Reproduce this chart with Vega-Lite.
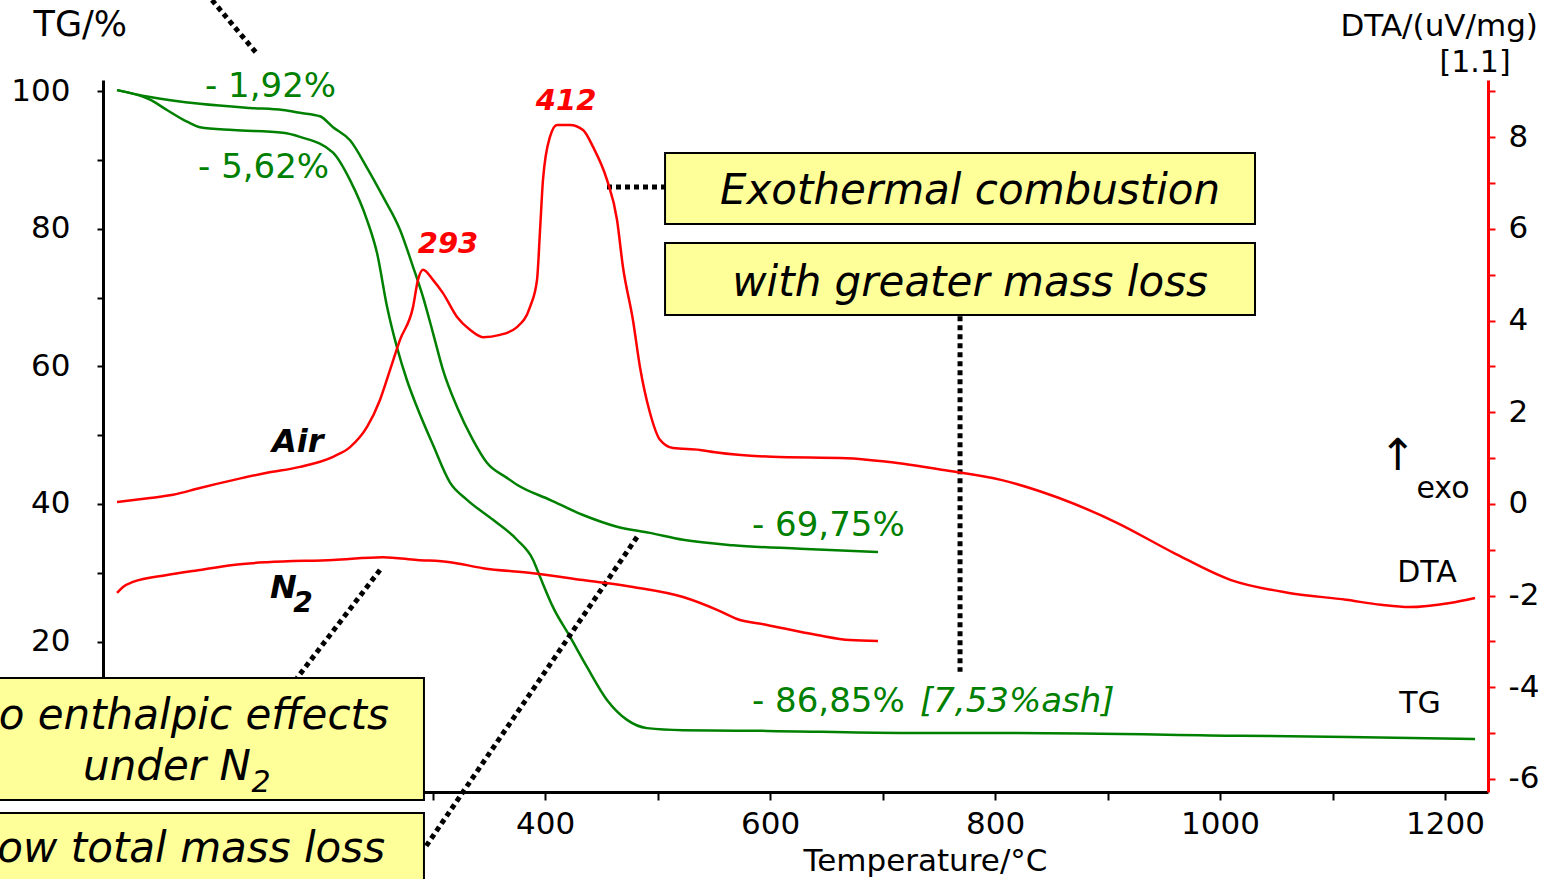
{
  "$schema": "https://vega.github.io/schema/vega-lite/v6.json",
  "width": 1385,
  "height": 712,
  "autosize": {"type": "none"},
  "padding": {"left": 103, "top": 80, "right": 59, "bottom": 87},
  "background": "white",
  "config": {"view": {"stroke": null}, "font": "DejaVu Sans"},
  "datasets": {
    "tg": [
      {"series": "N2", "T": 19.6, "TG": 100.2}, {"series": "N2", "T": 48.9, "TG": 99.2}, {"series": "N2", "T": 93.3, "TG": 98.2},
      {"series": "N2", "T": 137.8, "TG": 97.6}, {"series": "N2", "T": 167.1, "TG": 97.3}, {"series": "N2", "T": 182.2, "TG": 96.9},
      {"series": "N2", "T": 200, "TG": 96.4}, {"series": "N2", "T": 211.6, "TG": 94.8}, {"series": "N2", "T": 226.7, "TG": 92.9},
      {"series": "N2", "T": 241.8, "TG": 88.9}, {"series": "N2", "T": 256, "TG": 84.7}, {"series": "N2", "T": 271.1, "TG": 79.9},
      {"series": "N2", "T": 282.7, "TG": 74.5}, {"series": "N2", "T": 291.6, "TG": 70.1}, {"series": "N2", "T": 300.4, "TG": 64.9},
      {"series": "N2", "T": 309.3, "TG": 59.5}, {"series": "N2", "T": 321.8, "TG": 54.1}, {"series": "N2", "T": 336, "TG": 49.3},
      {"series": "N2", "T": 348.4, "TG": 46.0}, {"series": "N2", "T": 366.2, "TG": 43.8}, {"series": "N2", "T": 375.1, "TG": 42.8},
      {"series": "N2", "T": 404.4, "TG": 40.6}, {"series": "N2", "T": 433.8, "TG": 38.4}, {"series": "N2", "T": 464, "TG": 36.7},
      {"series": "N2", "T": 493.3, "TG": 35.8}, {"series": "N2", "T": 522.7, "TG": 34.8}, {"series": "N2", "T": 567.1, "TG": 34.0},
      {"series": "N2", "T": 626.7, "TG": 33.5}, {"series": "N2", "T": 696, "TG": 33.0},
      {"series": "Air", "T": 19.6, "TG": 100.2}, {"series": "Air", "T": 48.9, "TG": 98.8}, {"series": "Air", "T": 64, "TG": 97.3},
      {"series": "Air", "T": 81.8, "TG": 95.6}, {"series": "Air", "T": 93.3, "TG": 94.8}, {"series": "Air", "T": 122.7, "TG": 94.4},
      {"series": "Air", "T": 167.1, "TG": 94.0}, {"series": "Air", "T": 182.2, "TG": 93.4}, {"series": "Air", "T": 211.6, "TG": 91.1},
      {"series": "Air", "T": 226.7, "TG": 87.1}, {"series": "Air", "T": 241.8, "TG": 81.3}, {"series": "Air", "T": 250.7, "TG": 76.5},
      {"series": "Air", "T": 259.6, "TG": 68.7}, {"series": "Air", "T": 268.4, "TG": 62.8}, {"series": "Air", "T": 277.3, "TG": 58.0},
      {"series": "Air", "T": 286.2, "TG": 54.1}, {"series": "Air", "T": 300.4, "TG": 48.6}, {"series": "Air", "T": 315.6, "TG": 43.1},
      {"series": "Air", "T": 330.7, "TG": 40.6}, {"series": "Air", "T": 353.8, "TG": 37.7}, {"series": "Air", "T": 375.1, "TG": 34.8},
      {"series": "Air", "T": 389.3, "TG": 31.9}, {"series": "Air", "T": 395.6, "TG": 29.4}, {"series": "Air", "T": 407.1, "TG": 25.0},
      {"series": "Air", "T": 422.2, "TG": 20.7}, {"series": "Air", "T": 437.3, "TG": 16.3}, {"series": "Air", "T": 455.1, "TG": 11.5},
      {"series": "Air", "T": 472.9, "TG": 8.6}, {"series": "Air", "T": 490.7, "TG": 7.4}, {"series": "Air", "T": 522.7, "TG": 7.1},
      {"series": "Air", "T": 597.3, "TG": 7.0}, {"series": "Air", "T": 715.6, "TG": 6.7}, {"series": "Air", "T": 806.2, "TG": 6.7},
      {"series": "Air", "T": 1017.8, "TG": 6.3}, {"series": "Air", "T": 1113.8, "TG": 6.1}, {"series": "Air", "T": 1226.7, "TG": 5.8}
    ],
    "dta": [
      {"series": "Air", "T": 19.6, "DTA": 0.04}, {"series": "Air", "T": 48.9, "DTA": 0.13}, {"series": "Air", "T": 69.3, "DTA": 0.2},
      {"series": "Air", "T": 93.3, "DTA": 0.35}, {"series": "Air", "T": 122.7, "DTA": 0.52}, {"series": "Air", "T": 152.9, "DTA": 0.68},
      {"series": "Air", "T": 182.2, "DTA": 0.81}, {"series": "Air", "T": 211.6, "DTA": 1.03}, {"series": "Air", "T": 226.7, "DTA": 1.24},
      {"series": "Air", "T": 241.8, "DTA": 1.68}, {"series": "Air", "T": 253.3, "DTA": 2.27}, {"series": "Air", "T": 262.2, "DTA": 2.92},
      {"series": "Air", "T": 271.1, "DTA": 3.58}, {"series": "Air", "T": 282.7, "DTA": 4.3}, {"series": "Air", "T": 287.1, "DTA": 4.89},
      {"series": "Air", "T": 291.6, "DTA": 5.11}, {"series": "Air", "T": 300.4, "DTA": 4.89}, {"series": "Air", "T": 309.3, "DTA": 4.6},
      {"series": "Air", "T": 321.8, "DTA": 4.08}, {"series": "Air", "T": 333.3, "DTA": 3.8}, {"series": "Air", "T": 344.9, "DTA": 3.64},
      {"series": "Air", "T": 360, "DTA": 3.69}, {"series": "Air", "T": 375.1, "DTA": 3.86}, {"series": "Air", "T": 386.7, "DTA": 4.3},
      {"series": "Air", "T": 392.9, "DTA": 4.89}, {"series": "Air", "T": 395.6, "DTA": 5.98}, {"series": "Air", "T": 398.2, "DTA": 7.07},
      {"series": "Air", "T": 404.4, "DTA": 8.01}, {"series": "Air", "T": 410.7, "DTA": 8.27}, {"series": "Air", "T": 422.2, "DTA": 8.27},
      {"series": "Air", "T": 433.8, "DTA": 8.16}, {"series": "Air", "T": 442.7, "DTA": 7.79}, {"series": "Air", "T": 455.1, "DTA": 7.07},
      {"series": "Air", "T": 464, "DTA": 6.2}, {"series": "Air", "T": 469.3, "DTA": 5.17}, {"series": "Air", "T": 478.2, "DTA": 4.01},
      {"series": "Air", "T": 484.4, "DTA": 2.99}, {"series": "Air", "T": 493.3, "DTA": 1.99}, {"series": "Air", "T": 502.2, "DTA": 1.4},
      {"series": "Air", "T": 513.8, "DTA": 1.22}, {"series": "Air", "T": 537.8, "DTA": 1.18}, {"series": "Air", "T": 551.1, "DTA": 1.13},
      {"series": "Air", "T": 601.8, "DTA": 1.03}, {"series": "Air", "T": 668.4, "DTA": 1.0}, {"series": "Air", "T": 704, "DTA": 0.92},
      {"series": "Air", "T": 754.7, "DTA": 0.74}, {"series": "Air", "T": 806.2, "DTA": 0.52}, {"series": "Air", "T": 856.9, "DTA": 0.13},
      {"series": "Air", "T": 908.4, "DTA": -0.41}, {"series": "Air", "T": 959.1, "DTA": -1.07}, {"series": "Air", "T": 1009.8, "DTA": -1.66},
      {"series": "Air", "T": 1061.3, "DTA": -1.94}, {"series": "Air", "T": 1112, "DTA": -2.09}, {"series": "Air", "T": 1143.1, "DTA": -2.2},
      {"series": "Air", "T": 1168, "DTA": -2.25}, {"series": "Air", "T": 1204.4, "DTA": -2.16}, {"series": "Air", "T": 1226.7, "DTA": -2.05},
      {"series": "N2", "T": 19.6, "DTA": -1.94}, {"series": "N2", "T": 24.9, "DTA": -1.81}, {"series": "N2", "T": 33.8, "DTA": -1.7},
      {"series": "N2", "T": 64, "DTA": -1.55}, {"series": "N2", "T": 93.3, "DTA": -1.44}, {"series": "N2", "T": 122.7, "DTA": -1.33},
      {"series": "N2", "T": 152.9, "DTA": -1.27}, {"series": "N2", "T": 211.6, "DTA": -1.22}, {"series": "N2", "T": 256, "DTA": -1.16},
      {"series": "N2", "T": 286.2, "DTA": -1.22}, {"series": "N2", "T": 315.6, "DTA": -1.27}, {"series": "N2", "T": 344.9, "DTA": -1.4},
      {"series": "N2", "T": 389.3, "DTA": -1.51}, {"series": "N2", "T": 433.8, "DTA": -1.66}, {"series": "N2", "T": 478.2, "DTA": -1.81},
      {"series": "N2", "T": 522.7, "DTA": -2.03}, {"series": "N2", "T": 552.9, "DTA": -2.31}, {"series": "N2", "T": 570.7, "DTA": -2.51},
      {"series": "N2", "T": 597.3, "DTA": -2.64}, {"series": "N2", "T": 641.8, "DTA": -2.86}, {"series": "N2", "T": 671.1, "DTA": -2.97},
      {"series": "N2", "T": 696, "DTA": -2.99}
    ],
    "greenLabels": [
      {"label": "- 1,92%", "T": 97.8, "TG": 99.2},
      {"label": "- 5,62%", "T": 91.6, "TG": 87.4},
      {"label": "- 69,75%", "T": 584, "TG": 35.35},
      {"label": "- 86,85%", "T": 584, "TG": 9.75}
    ],
    "greenItalic": [{"label": "[7,53%ash]", "T": 733.3, "TG": 9.75}],
    "peaks": [{"label": "293", "T": 313.8, "TG": 76.5}, {"label": "412", "T": 418.7, "TG": 97.3}],
    "gas": [{"label": "Air", "T": 157.3, "TG": 47.56}, {"label": "N", "T": 155.6, "TG": 26.33}],
    "gasSub": [{"label": "2", "T": 184.9, "TG": 24.29}],
    "plain": [
      {"label": "DTA", "T": 1184, "TG": 28.65},
      {"label": "TG", "T": 1177.8, "TG": 9.6},
      {"label": "exo", "T": 1198.2, "TG": 40.87},
      {"label": "[1.1]", "T": 1226.7, "TG": 102.8}
    ],
    "arrow": [{"label": "↑", "T": 1158.2, "TG": 44.9}],
    "boxes": [
      {"T": 506.7, "T2": 1031.1, "TG": 91.05, "TG2": 80.73},
      {"T": 506.7, "T2": 1031.1, "TG": 77.96, "TG2": 67.49},
      {"T": -102.2, "T2": 292.4, "TG": 14.69, "TG2": -3.05},
      {"T": -102.2, "T2": 292.4, "TG": -4.95, "TG2": -17.6}
    ],
    "boxText": [
      {"label": "Exothermal combustion", "T": 777.8, "TG": 83.64},
      {"label": "with greater mass loss", "T": 777.8, "TG": 70.25},
      {"label": "No enthalpic effects", "T": 73.8, "TG": 7.27},
      {"label": "under N", "T": 64, "TG": -0.15},
      {"label": "Low total mass loss", "T": 75.1, "TG": -12.07}
    ],
    "boxSub": [{"label": "2", "T": 147.6, "TG": -1.89}],
    "dotted": [
      {"T": 104, "TG": 113.3, "T2": 144.9, "TG2": 105.3},
      {"T": 253.3, "TG": 30.4, "T2": 179.6, "TG2": 14.7},
      {"T": 481.8, "TG": 35.2, "T2": 293.3, "TG2": -10.0},
      {"T": 455.1, "TG": 86.1, "T2": 506.7, "TG2": 86.1},
      {"T": 768.9, "TG": 67.3, "T2": 768.9, "TG2": 15.6}
    ]
  },
  "encoding": {
    "x": {
      "field": "T",
      "type": "quantitative",
      "scale": {"domain": [7.11, 1238.2], "nice": false, "zero": false},
      "axis": {
        "values": [100, 200, 300, 400, 500, 600, 700, 800, 900, 1000, 1100, 1200],
        "format": "d",
        "labelExpr": "datum.value % 200 === 0 ? datum.label : ''",
        "grid": false,
        "domainColor": "black",
        "domainWidth": 3,
        "tickColor": "black",
        "tickWidth": 2,
        "tickSize": 8,
        "labelFont": "DejaVu Sans",
        "labelFontSize": 31,
        "labelColor": "black",
        "labelPadding": 9,
        "labelFlush": false,
        "labelOverlap": false,
        "title": "Temperature/°C",
        "titleFont": "DejaVu Sans",
        "titleFontSize": 31,
        "titleFontWeight": "normal",
        "titleColor": "black",
        "titleX": 822,
        "titleY": 78,
        "titleAlign": "center",
        "titleBaseline": "alphabetic"
      }
    }
  },
  "layer": [
    {
      "encoding": {
        "y": {
          "field": "TG",
          "type": "quantitative",
          "scale": {"domain": [-1.89, 101.67], "nice": false, "zero": false},
          "axis": {
            "orient": "left",
            "values": [0, 10, 20, 30, 40, 50, 60, 70, 80, 90, 100],
            "labelExpr": "datum.value % 20 === 0 ? datum.label : ''",
            "grid": false,
            "domainColor": "black",
            "domainWidth": 3,
            "tickColor": "black",
            "tickWidth": 2,
            "tickSize": 6,
            "labelFont": "DejaVu Sans",
            "labelFontSize": 31,
            "labelColor": "black",
            "labelPadding": 27,
            "labelOverlap": false,
            "labelFlush": false,
            "title": "TG/%",
            "titleFont": "DejaVu Sans",
            "titleFontSize": 35,
            "titleFontWeight": "normal",
            "titleColor": "black",
            "titleAngle": 0,
            "titleX": -70,
            "titleY": -45,
            "titleAlign": "left",
            "titleBaseline": "alphabetic"
          }
        }
      },
      "layer": [
        {
          "data": {"name": "tg"},
          "mark": {"type": "line", "color": "#008000", "strokeWidth": 2.5, "interpolate": "monotone"},
          "encoding": {"detail": {"field": "series"}}
        },
        {
          "data": {"name": "dotted"},
          "mark": {"type": "rule", "color": "black", "strokeWidth": 5, "strokeDash": [5, 4], "strokeCap": "butt"},
          "encoding": {"x2": {"field": "T2"}, "y2": {"field": "TG2"}}
        },
        {
          "data": {"name": "boxes"},
          "mark": {"type": "rect", "fill": "#FFFF99", "stroke": "black", "strokeWidth": 2},
          "encoding": {"x2": {"field": "T2"}, "y2": {"field": "TG2"}}
        },
        {
          "data": {"name": "boxText"},
          "mark": {"type": "text", "font": "DejaVu Sans", "fontSize": 42, "fontStyle": "italic", "color": "black", "align": "center", "baseline": "alphabetic"},
          "encoding": {"text": {"field": "label"}}
        },
        {
          "data": {"name": "boxSub"},
          "mark": {"type": "text", "font": "DejaVu Sans", "fontSize": 30, "fontStyle": "italic", "color": "black", "align": "center", "baseline": "alphabetic"},
          "encoding": {"text": {"field": "label"}}
        },
        {
          "data": {"name": "greenLabels"},
          "mark": {"type": "text", "font": "DejaVu Sans", "fontSize": 34, "color": "#008000", "align": "left", "baseline": "alphabetic"},
          "encoding": {"text": {"field": "label"}}
        },
        {
          "data": {"name": "greenItalic"},
          "mark": {"type": "text", "font": "DejaVu Sans", "fontSize": 34, "fontStyle": "italic", "color": "#008000", "align": "left", "baseline": "alphabetic"},
          "encoding": {"text": {"field": "label"}}
        },
        {
          "data": {"name": "peaks"},
          "mark": {"type": "text", "font": "DejaVu Sans", "fontSize": 29, "fontStyle": "italic", "fontWeight": "bold", "color": "#ff0000", "align": "center", "baseline": "alphabetic"},
          "encoding": {"text": {"field": "label"}}
        },
        {
          "data": {"name": "gas"},
          "mark": {"type": "text", "font": "DejaVu Sans", "fontSize": 32, "fontStyle": "italic", "fontWeight": "bold", "color": "black", "align": "left", "baseline": "alphabetic"},
          "encoding": {"text": {"field": "label"}}
        },
        {
          "data": {"name": "gasSub"},
          "mark": {"type": "text", "font": "DejaVu Sans", "fontSize": 28, "fontStyle": "italic", "fontWeight": "bold", "color": "black", "align": "center", "baseline": "alphabetic"},
          "encoding": {"text": {"field": "label"}}
        },
        {
          "data": {"name": "plain"},
          "mark": {"type": "text", "font": "DejaVu Sans", "fontSize": 30, "color": "black", "align": "center", "baseline": "alphabetic"},
          "encoding": {"text": {"field": "label"}}
        },
        {
          "data": {"name": "arrow"},
          "mark": {"type": "text", "font": "DejaVu Sans", "fontSize": 44, "color": "black", "align": "center", "baseline": "alphabetic"},
          "encoding": {"text": {"field": "label"}}
        }
      ]
    },
    {
      "encoding": {
        "y": {
          "field": "DTA",
          "type": "quantitative",
          "scale": {"domain": [-6.284, 9.25], "nice": false, "zero": false},
          "axis": {
            "orient": "right",
            "values": [-6, -5, -4, -3, -2, -1, 0, 1, 2, 3, 4, 5, 6, 7, 8, 9],
            "labelExpr": "datum.value % 2 === 0 ? (datum.value < 0 ? '-' + abs(datum.value) : '' + datum.value) : ''",
            "grid": false,
            "domainColor": "#ff0000",
            "domainWidth": 3,
            "tickColor": "#ff0000",
            "tickWidth": 2,
            "tickSize": 7,
            "labelFont": "DejaVu Sans",
            "labelFontSize": 31,
            "labelColor": "black",
            "labelPadding": 13,
            "labelOverlap": false,
            "labelFlush": false,
            "title": "DTA/(uV/mg)",
            "titleFont": "DejaVu Sans",
            "titleFontSize": 31,
            "titleFontWeight": "normal",
            "titleColor": "black",
            "titleAngle": 0,
            "titleX": -148,
            "titleY": -45,
            "titleAlign": "left",
            "titleBaseline": "alphabetic"
          }
        }
      },
      "layer": [
        {
          "data": {"name": "dta"},
          "mark": {"type": "line", "color": "#ff0000", "strokeWidth": 2.5, "interpolate": "monotone"},
          "encoding": {"detail": {"field": "series"}}
        }
      ]
    }
  ],
  "resolve": {"scale": {"y": "independent"}, "axis": {"y": "independent"}}
}
